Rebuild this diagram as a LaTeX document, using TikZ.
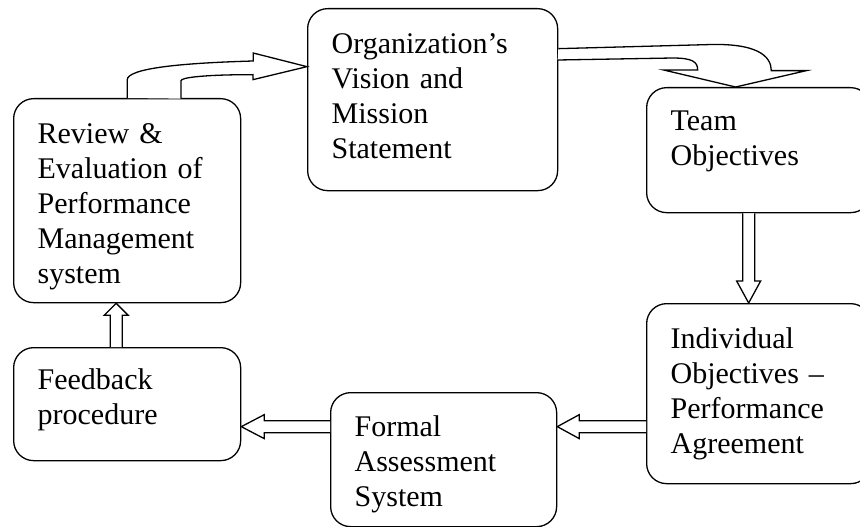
\documentclass[tikz,border=0pt]{standalone}
\usepackage{fontspec}
\setmainfont{Liberation Serif}
\usetikzlibrary{calc}
\tikzset{
  box/.style={draw, rounded corners=20pt, line width=1.3pt, anchor=north west, align=left, inner xsep=24pt, inner ysep=0pt},
  blk/.style={draw, fill=white, line width=1.3pt}}
\newcommand{\blockarrow}[3][22pt]{%
  \coordinate (ba) at ($(#3)!#1!(#2)$);
  \draw[blk] ($(#2)!6pt!90:(#3)$) -- ($(ba)!6pt!-90:(#2)$) -- ($(ba)!12pt!-90:(#2)$) -- (#3) -- ($(ba)!12pt!90:(#2)$) -- ($(ba)!6pt!90:(#2)$) -- ($(#2)!6pt!-90:(#3)$);}

\begin{document}
\begin{tikzpicture}[x=1pt, y=-1pt, font=\fontsize{30}{35}\selectfont]
\useasboundingbox (0,0) rectangle (860,527);
\node[box, minimum width=227pt, minimum height=204pt, text width=179pt, text depth=134pt] (rev) at (13,98) {Review \&\\Evaluation of\\Performance\\Management\\system};
\node[box, minimum width=250pt, minimum height=182pt, text width=202pt, text depth=112pt] (org) at (307,8) {Organization’s\\Vision and\\Mission\\Statement};
\node[box, minimum width=224pt, minimum height=125pt, text width=176pt, text depth=59pt] (team) at (646,87) {Team\\Objectives};
\node[box, minimum width=224pt, minimum height=180pt, text width=176pt] (ind) at (646,303) {Individual\\Objectives –\\Performance\\Agreement};
\node[box, minimum width=226pt, minimum height=134pt, text width=178pt, text depth=68pt] (fas) at (330,392) {Formal\\Assessment\\System};
\node[box, minimum width=227pt, minimum height=113pt, text width=179pt, text depth=51pt] (fb) at (13,347) {Feedback\\procedure};

\draw[blk] (rev.north) -- ++(0,-18) .. controls +(0,-12) and +(-70,2) .. ++(126,-19) -- ++(0,-8) -- ([yshift=33pt]org.west) -- ++(-54,13) -- ++(0,-5) .. controls +(-50,0) and +(0,-3) .. ++(-72,6) -- ++(0,18);
\draw[blk] ([yshift=51pt]org.east) -- ++(148,-4) .. controls +(50,-2) and +(0,-15) .. ++(65,26) -- ++(35,0) -- ([xshift=-23pt]team.north) -- ++(-72,-17) -- ++(34,0) .. controls +(0,-8) and +(20,0) .. ++(-25,-12) -- ++(-115,2);

\coordinate (t1) at ([xshift=-10pt]team.south);
\coordinate (i1) at (t1 |- ind.north);
\blockarrow{t1}{i1}
\coordinate (i2) at ([yshift=-33pt]ind.west);
\coordinate (f1) at (fas.east |- i2);
\blockarrow{i2}{f1}
\coordinate (f2) at (fas.west |- i2);
\coordinate (b1) at (fb.east |- i2);
\blockarrow[23pt]{f2}{b1}
\coordinate (b2) at ([xshift=-11pt]fb.north);
\coordinate (r1) at (b2 |- rev.south);
\blockarrow[12pt]{b2}{r1}
\end{tikzpicture}
\end{document}
